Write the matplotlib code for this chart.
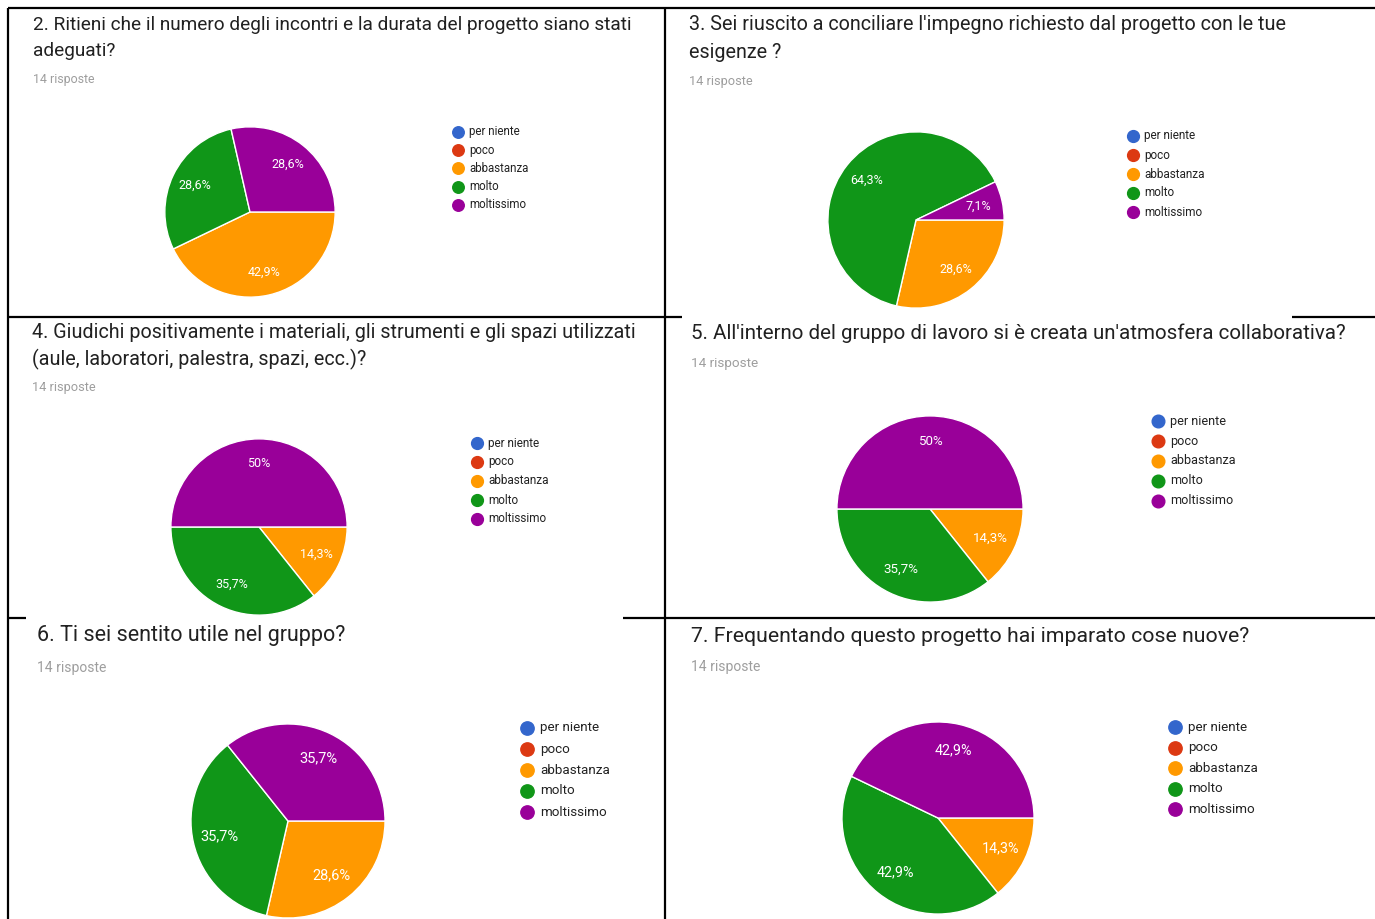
import matplotlib
matplotlib.use("Agg")
import matplotlib.pyplot as plt

W, H = 1375, 919
plt.rcParams["font.family"] = ["Roboto", "DejaVu Sans"]

# ---------------------------------------------------------------
# data (counts out of 14 responses)
# ---------------------------------------------------------------
categories = ["per niente", "poco", "abbastanza", "molto", "moltissimo"]
colors = ["#3366cc", "#dc3912", "#ff9900", "#109618", "#990099"]

titles = [
    "2. Ritieni che il numero degli incontri e la durata del progetto siano stati\nadeguati?",
    "3. Sei riuscito a conciliare l'impegno richiesto dal progetto con le tue\nesigenze ?",
    "4. Giudichi positivamente i materiali, gli strumenti e gli spazi utilizzati\n(aule, laboratori, palestra, spazi, ecc.)?",
    "5. All'interno del gruppo di lavoro si è creata un'atmosfera collaborativa?",
    "6. Ti sei sentito utile nel gruppo?",
    "7. Frequentando questo progetto hai imparato cose nuove?",
]
subtitle = "14 risposte"

q2 = [0, 0, 6, 4, 4]
q3 = [0, 0, 4, 9, 1]
q4 = [0, 0, 2, 5, 7]
q5 = [0, 0, 2, 5, 7]
q6 = [0, 0, 4, 5, 5]
q7 = [0, 0, 2, 6, 6]
answers = [q2, q3, q4, q5, q6, q7]

# ---------------------------------------------------------------
# layout of each screenshot panel (pixels)
# ---------------------------------------------------------------
panels = [
    dict(tx=33, ty=25, lh=26, ts=13.7, sy=79, ss=8.9, cx=250, cy=212, r=86,
         lx=458, ly=132, step=18.2, ls=8.3, ps=9),
    dict(tx=689, ty=25, lh=27, ts=14.2, sy=81, ss=9.2, cx=916, cy=220, r=89,
         lx=1133, ly=136, step=19, ls=8.5, ps=9),
    dict(tx=32, ty=332, lh=27, ts=14.2, sy=388, ss=9.2, cx=259, cy=527, r=89,
         lx=477, ly=443, step=19, ls=8.5, ps=9),
    dict(tx=691, ty=333, lh=27, ts=14.8, sy=363, ss=9.7, cx=930, cy=509,
         r=94, lx=1158, ly=421, step=20, ls=9.1, ps=9.6),
    dict(tx=37, ty=636, lh=27, ts=15.5, sy=668, ss=10, cx=288, cy=821, r=98,
         lx=527, ly=728, step=21, ls=9.6, ps=10.5),
    dict(tx=691, ty=636, lh=27, ts=15.3, sy=667, ss=10, cx=938, cy=818,
         r=97, lx=1175, ly=727, step=20.6, ls=9.6, ps=10.3),
]


def pct_label(p):
    if p < 0.5:
        return ""
    s = f"{p:.1f}".replace(".", ",")
    if s.endswith(",0"):
        s = s[:-2]
    return s + "%"


fig = plt.figure(figsize=(W / 100, H / 100), dpi=100)
bg = fig.add_axes([0, 0, 1, 1])
bg.set_xlim(0, W)
bg.set_ylim(H, 0)
bg.axis("off")

# panel borders (pieces of the pasted table)
lw = 1.6
segments = [
    ((8, 1375), (8, 8)),
    ((8, 8), (8, 919)),
    ((665, 665), (8, 919)),
    ((8, 682), (317, 317)),
    ((1292, 1375), (317, 317)),
    ((8, 26), (618, 618)),
    ((623, 1375), (618, 618)),
]
for xs, ys in segments:
    bg.plot(xs, ys, color="black", lw=lw, solid_capstyle="butt")

for title, vals, p in zip(titles, answers, panels):
    for k, line in enumerate(title.split("\n")):
        bg.text(p["tx"], p["ty"] + k * p["lh"], line, fontsize=p["ts"],
                color="#212121", va="center", ha="left")
    bg.text(p["tx"], p["sy"], subtitle, fontsize=p["ss"], color="#9e9e9e",
            va="center", ha="left")

    # legend
    for i, (cat, col) in enumerate(zip(categories, colors)):
        y = p["ly"] + i * p["step"]
        bg.scatter([p["lx"]], [y], s=(p["ls"] * 1.0) ** 2, color=col,
                   zorder=3)
        bg.text(p["lx"] + p["ls"] * 1.35, y, cat, fontsize=p["ls"],
                color="#222222", va="center", ha="left")

    r = p["r"]
    ax = fig.add_axes([(p["cx"] - r) / W, 1 - (p["cy"] + r) / H,
                       2 * r / W, 2 * r / H])
    ax.pie(vals, colors=colors, startangle=0, counterclock=False,
           autopct=pct_label, pctdistance=0.72,
           wedgeprops=dict(edgecolor="white", linewidth=1),
           textprops=dict(color="white", fontsize=p["ps"]))
    ax.set_xlim(-1.01, 1.01)
    ax.set_ylim(-1.01, 1.01)
    ax.set_aspect("equal")
    ax.axis("off")

fig.savefig("out.png", dpi=100)
